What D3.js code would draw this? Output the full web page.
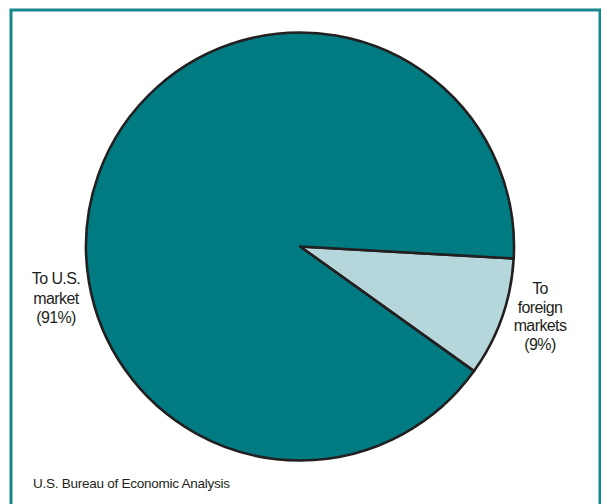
<!DOCTYPE html>
<html><head><meta charset="utf-8">
<script src="https://cdn.jsdelivr.net/npm/d3@7"></script>
<style>body{margin:0;background:#fff}svg{display:block}text{font-family:"Liberation Sans",Arial,sans-serif;fill:#231f20}</style>
</head><body><svg id="c" width="601" height="504"></svg>
<script>
const categories = ["To foreign markets", "To U.S. market"];
const values = [9, 91];
const labelLines = [["To", "foreign", "markets", "(9%)"], ["To U.S.", "market", "(91%)"]];
const colors = ["#b5d7dc", "#007b82"];
const source = "U.S. Bureau of Economic Analysis";

const svg = d3.select("#c");
// frame
svg.append("path").attr("d", "M11,504 V10 H600 V504").attr("fill", "none")
  .attr("stroke", "#17878d").attr("stroke-width", 3);

const cx = 300, cy = 246.5, r = 214;
const start = 93.2 * Math.PI / 180;
const pie = d3.pie().sort(null).startAngle(start).endAngle(start + 2 * Math.PI);
const arc = d3.arc().innerRadius(0).outerRadius(r);
const g = svg.append("g").attr("transform", `translate(${cx},${cy})`);
g.selectAll("path").data(pie(values)).join("path")
  .attr("d", arc).attr("fill", (d, i) => colors[i])
  .attr("stroke", "#231f20").attr("stroke-width", 2.6).attr("stroke-linejoin", "round");

// labels
const labelPos = [{x: 540, y: 294, dy: 18.5}, {x: 56, y: 284, dy: 19.5}];
labelLines.forEach((lines, i) => {
  const t = svg.append("text").attr("text-anchor", "middle").attr("font-size", 16)
    .attr("letter-spacing", -0.6);
  lines.forEach((l, j) => t.append("tspan").attr("x", labelPos[i].x)
    .attr("y", labelPos[i].y + j * labelPos[i].dy).text(l));
});
svg.append("text").attr("x", 33).attr("y", 488).attr("font-size", 13.5)
  .attr("letter-spacing", -0.25).text(source);
</script></body></html>
